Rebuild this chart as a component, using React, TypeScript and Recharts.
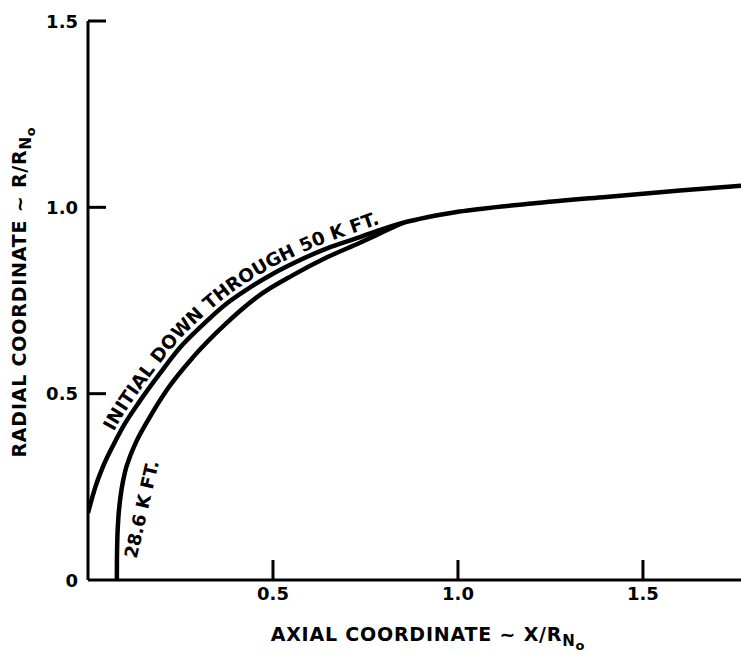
import React from 'react';
import { LineChart, Line, XAxis, YAxis, Customized } from 'recharts';

// Nose profile coordinates, X/RNo vs R/RNo
const initialX = [0, 0.02, 0.04, 0.07, 0.1, 0.14, 0.195, 0.25, 0.3, 0.375, 0.43, 0.5, 0.555, 0.646, 0.735, 0.8, 0.85, 0.92, 1.0, 1.2, 1.4, 1.6, 1.765];
const initialR = [0.18, 0.25, 0.303, 0.365, 0.42, 0.48, 0.555, 0.625, 0.675, 0.742, 0.78, 0.822, 0.85, 0.89, 0.92, 0.943, 0.958, 0.974, 0.988, 1.01, 1.028, 1.045, 1.058];

const lowX = [0.078, 0.0782, 0.079, 0.081, 0.085, 0.091, 0.1, 0.113, 0.13, 0.16, 0.213, 0.284, 0.375, 0.465, 0.554, 0.646, 0.735, 0.8, 0.85];
const lowR = [0, 0.05, 0.1, 0.15, 0.2, 0.245, 0.29, 0.33, 0.37, 0.425, 0.51, 0.598, 0.69, 0.765, 0.818, 0.866, 0.905, 0.935, 0.958];

const xTicks = [0.5, 1.0, 1.5];
const yTicks = [0, 0.5, 1.0, 1.5];

const initialLabel = 'INITIAL DOWN THROUGH 50 K FT.';
const lowLabel = '28.6 K FT.';

const initialData = initialX.map((x, i) => ({ x, r: initialR[i] }));
const lowData = lowX.map((x, i) => ({ x, r: lowR[i] }));

const W = 741;
const H = 655;
const TOP = 21;
const Y_AXIS_W = 88;
const X_AXIS_H = 75;
const X_MAX = 1.765;
const Y_MAX = 1.5;
const FONT = '"DejaVu Sans", sans-serif';

// plot-area mapping, used only to place the curve annotations
const plotW = W - Y_AXIS_W;
const plotH = H - TOP - X_AXIS_H;
const px = (x: number) => Y_AXIS_W + (x / X_MAX) * plotW;
const py = (r: number) => TOP + plotH - (r / Y_MAX) * plotH;

// smooth path running parallel to a curve, shifted along its left-hand normal
const offsetPath = (xs: number[], rs: number[], dist: number) => {
  const pts = xs.map((x, i) => [px(x), py(rs[i])]);
  const out = pts.map((p, i) => {
    const a = pts[Math.max(0, i - 1)];
    const b = pts[Math.min(pts.length - 1, i + 1)];
    const dx = b[0] - a[0];
    const dy = b[1] - a[1];
    const len = Math.hypot(dx, dy) || 1;
    return [p[0] + (dist * dy) / len, p[1] - (dist * dx) / len];
  });
  let d = `M${out[0][0]},${out[0][1]}`;
  for (let i = 1; i < out.length - 1; i++) {
    const mx = (out[i][0] + out[i + 1][0]) / 2;
    const my = (out[i][1] + out[i + 1][1]) / 2;
    d += ` Q${out[i][0]},${out[i][1]} ${mx},${my}`;
  }
  const last = out[out.length - 1];
  return d + ` L${last[0]},${last[1]}`;
};

const YTick = (props: any) => {
  const { x, y, payload } = props;
  const v = payload.value;
  return (
    <g>
      {v > 0 && <line x1={x} x2={x + 18} y1={y} y2={y} stroke="#000" strokeWidth={3} />}
      <text
        x={x - 10}
        y={y}
        textAnchor="end"
        dominantBaseline="central"
        fontFamily={FONT}
        fontWeight="bold"
        fontSize={18}
        fill="#000"
      >
        {v === 0 ? '0' : v.toFixed(1)}
      </text>
    </g>
  );
};

const XTick = (props: any) => {
  const { x, y, payload } = props;
  return (
    <g>
      <line x1={x} x2={x} y1={y} y2={y - 20} stroke="#000" strokeWidth={3} />
      <text
        x={x}
        y={y + 13}
        textAnchor="middle"
        dominantBaseline="central"
        fontFamily={FONT}
        fontWeight="bold"
        fontSize={18}
        fill="#000"
      >
        {payload.value.toFixed(1)}
      </text>
    </g>
  );
};

const Annotations = () => {
  const labelPath = offsetPath(initialX, initialR, 6);
  // straight label beside the lower curve, near its foot
  const lx = px(0.085) + 22;
  const ly = py(0.19);
  return (
    <g fontFamily={FONT} fontWeight="bold" fill="#000">
      <defs>
        <path id="initial-label-path" d={labelPath} fill="none" />
      </defs>
      <text fontSize={18.5}>
        <textPath href="#initial-label-path" startOffset={86}>
          {initialLabel}
        </textPath>
      </text>
      <text
        x={lx}
        y={ly}
        fontSize={18}
        textAnchor="middle"
        dominantBaseline="central"
        transform={`rotate(-77 ${lx} ${ly})`}
      >
        {lowLabel}
      </text>

      <text x={428} y={641} fontSize={19} textAnchor="middle" letterSpacing={0.8}>
        AXIAL COORDINATE ~ X/R
        <tspan fontSize={15} dy={5}>N</tspan>
        <tspan fontSize={13} dy={4}>o</tspan>
      </text>
      <text
        x={26}
        y={292}
        fontSize={19}
        textAnchor="middle"
        letterSpacing={0.8}
        transform="rotate(-90 26 292)"
      >
        RADIAL COORDINATE ~ R/R
        <tspan fontSize={15} dy={5}>N</tspan>
        <tspan fontSize={13} dy={4}>o</tspan>
      </text>
    </g>
  );
};

export default function App() {
  return (
    <div style={{ position: 'absolute', left: 0, top: 0, background: '#fff' }}>
      <LineChart width={W} height={H} margin={{ top: TOP, right: 0, bottom: 0, left: 0 }}>
        <XAxis
          type="number"
          dataKey="x"
          domain={[0, X_MAX]}
          ticks={xTicks}
          allowDataOverflow
          height={X_AXIS_H}
          axisLine={{ stroke: '#000', strokeWidth: 3 }}
          tickLine={false}
          tickSize={0}
          tickMargin={0}
          tick={<XTick />}
          interval={0}
        />
        <YAxis
          type="number"
          domain={[0, Y_MAX]}
          ticks={yTicks}
          allowDataOverflow
          width={Y_AXIS_W}
          axisLine={{ stroke: '#000', strokeWidth: 3 }}
          tickLine={false}
          tickSize={0}
          tickMargin={0}
          tick={<YTick />}
          interval={0}
        />
        <Line
          data={initialData}
          dataKey="r"
          type="monotone"
          stroke="#000"
          strokeWidth={4.5}
          dot={false}
          isAnimationActive={false}
        />
        <Line
          data={lowData}
          dataKey="r"
          type="monotone"
          stroke="#000"
          strokeWidth={4.5}
          dot={false}
          isAnimationActive={false}
        />
        <Customized component={Annotations} />
      </LineChart>
    </div>
  );
}
